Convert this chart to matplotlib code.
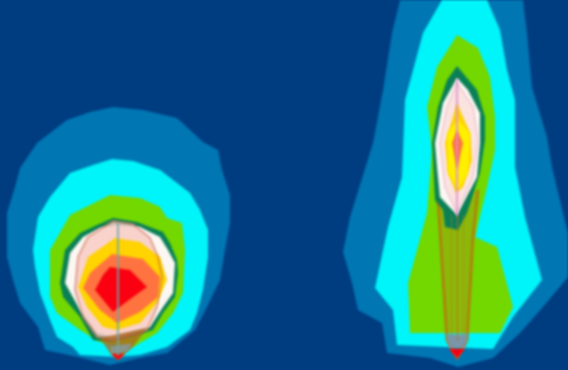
import numpy as np
import matplotlib
matplotlib.use('Agg')
import matplotlib.pyplot as plt
from matplotlib.patches import Polygon

# contour outlines, image pixels (x, y)
left_blue = [(113,107),(143,110),(177,118),(203,142),(218,150),(222,170),(230,195),(230,223),(225,250),(220,280),(207,307),(195,330),(167,353),(140,358),(110,365),(78,357),(45,350),(38,327),(20,303),(13,280),(7,257),(7,213),(15,187),(20,168),(37,143),(67,120),(90,112)]
left_cyan = [(112,159),(133,161),(160,170),(177,183),(190,193),(200,210),(208,230),(208,257),(203,290),(197,313),(190,330),(167,347),(140,355),(117,357),(80,355),(73,347),(57,337),(50,320),(40,293),(35,267),(33,250),(38,217),(50,197),(70,173),(93,165)]
left_green = [(110,195),(140,198),(160,207),(167,218),(182,223),(185,250),(183,293),(173,313),(157,333),(133,347),(100,342),(80,330),(57,313),(50,297),(50,250),(70,215),(90,205)]
left_dark = [(113,218),(137,222),(163,232),(170,243),(177,260),(178,273),(175,297),(163,313),(153,330),(127,338),(110,342),(93,340),(80,317),(63,297),(60,283),(65,250),(80,233),(97,225)]
left_white = [(115,225),(140,227),(160,237),(168,250),(175,263),(173,293),(163,307),(150,327),(113,337),(97,333),(80,310),(65,283),(70,253),(83,237),(100,228)]
left_pink = [(113,221),(133,224),(150,238),(158,257),(162,277),(157,307),(147,330),(113,340),(97,337),(83,317),(75,290),(78,257),(88,237)]
left_gold = [(115,238),(140,242),(160,257),(167,280),(157,303),(140,323),(117,330),(103,327),(87,307),(78,287),(88,257)]
left_orange = [(112,254),(143,259),(160,277),(158,297),(140,312),(117,323),(100,310),(83,288),(90,273)]
left_red = [(110,267),(130,270),(147,287),(133,297),(113,312),(95,290),(103,275)]
left_beam = [(100,338),(147,328),(133,347),(118,360),(110,353)]
left_gray = [(110,347),(132,343),(127,351),(112,354)]
left_tip = [(111,354),(125,354),(118,360)]

right_blue = [(400,0),(523,0),(527,33),(532,87),(547,137),(552,167),(563,213),(568,233),(568,277),(543,307),(520,333),(493,358),(458,367),(430,358),(387,353),(382,323),(358,310),(352,283),(343,252),(350,217),(373,143),(383,90),(392,33)]
right_cyan = [(442,0),(487,0),(500,30),(507,70),(515,100),(515,167),(525,217),(542,280),(513,317),(493,349),(397,345),(393,310),(375,288),(388,227),(402,177),(405,100),(423,33)]
right_green = [(457,35),(478,48),(490,77),(495,117),(495,150),(487,187),(475,237),(497,247),(513,307),(500,333),(410,333),(408,283),(427,213),(432,150),(427,107),(437,67)]
right_dark = [(457,66),(477,90),(485,117),(485,140),(480,173),(467,213),(458,230),(445,227),(443,210),(435,200),(432,143),(438,107),(447,80)]
right_white = [(457,78),(468,90),(480,113),(480,143),(477,177),(457,215),(440,197),(437,167),(435,143),(443,103)]
right_pink = [(457,83),(473,107),(478,140),(473,177),(457,213),(445,187),(440,143),(447,107)]
right_gold = [(457,103),(470,133),(472,160),(463,187),(456,193),(448,173),(445,143),(452,120)]
right_yellow = [(458,120),(470,133),(468,173),(458,190),(448,173),(447,133)]
right_orange = [(457,130),(463,143),(457,170),(452,143)]
right_beam = [(438,200),(447,340),(457,358),(467,340),(473,237),(478,190)]
right_gray = [(447,335),(467,335),(465,348),(449,348)]
right_tip = [(449,349),(465,349),(457,358)]

BG = '#003c80'
BLUE = '#0077b4'
CYAN = '#00f6fa'
GREEN = '#74d800'
DARK = '#0b8056'
WHITE = '#fdf8f4'
PINK = '#f9c9c4'
GOLD = '#ffd400'
YELLOW = '#fff000'
ORANGE = '#ff7440'
RED = '#fa0010'


def soften(img, dpi):
    # small box blur, the reference is a soft scaled-up picture
    pad = 3
    img = np.pad(img, ((pad, pad), (pad, pad), (0, 0)))
    a = img[..., 3:]
    out = np.dstack([img[..., :3] * a, a])
    kern = np.array([1, 2, 3, 2, 1]) / 9
    for axis in (0, 1):
        out = np.apply_along_axis(lambda v: np.convolve(v, kern, mode='same'), axis, out)
    a = out[..., 3:]
    rgb = np.divide(out[..., :3], a, out=np.zeros_like(out[..., :3]), where=a > 1e-4)
    return np.dstack([rgb, a]), -pad, -pad


fig = plt.figure(figsize=(5.68, 3.70), dpi=100, facecolor=BG)
ax = fig.add_axes([0, 0, 1, 1])
ax.set_xlim(0, 568)
ax.set_ylim(370, 0)
ax.axis('off')


def fill(pts, color, **kw):
    p = Polygon(pts, closed=True, facecolor=color, edgecolor='none', **kw)
    p.set_agg_filter(soften)
    ax.add_patch(p)


def outline(pts, color, lw, alpha, closed=True):
    p = Polygon(pts, closed=closed, fill=False, edgecolor=color, lw=lw, alpha=alpha)
    p.set_agg_filter(soften)
    ax.add_patch(p)


def vline(x, y0, y1, color, lw, alpha):
    ln, = ax.plot([x, x], [y0, y1], color=color, lw=lw, alpha=alpha)
    ln.set_agg_filter(soften)


for pts, col in [(left_blue, BLUE), (left_cyan, CYAN), (left_green, GREEN),
                 (left_dark, DARK), (left_white, WHITE)]:
    fill(pts, col)
fill(left_pink, PINK, alpha=0.8)
for pts, col in [(left_gold, GOLD), (left_orange, ORANGE), (left_red, RED),
                 (right_blue, BLUE), (right_cyan, CYAN), (right_green, GREEN)]:
    fill(pts, col)

# right beam goes under the dark ring and the core
fill(right_beam, '#c87020', alpha=0.3)
outline(right_beam, '#c06a10', 2.0, 0.75, closed=False)
vline(457, 215, 340, '#c07020', 1.0, 0.7)
vline(451, 215, 335, '#c07020', 0.8, 0.5)
vline(463, 215, 335, '#c07020', 0.8, 0.5)
for pts, col in [(right_dark, DARK), (right_white, WHITE)]:
    fill(pts, col)

# pale pink in the right core, then the warm centre
fill(right_pink, PINK, alpha=0.4)
for pts, col in [(right_gold, GOLD), (right_yellow, YELLOW), (right_orange, ORANGE)]:
    fill(pts, col)

# left beam and the red tips
fill(left_beam, '#b06a20', alpha=0.8)
fill(left_gray, '#8a9aa0', alpha=0.8)
fill(left_tip, RED)
fill(right_gray, '#8a8aa8', alpha=0.8)
fill(right_tip, RED)

# thin mesh lines
outline(left_pink, '#c8603c', 1.2, 0.6)
outline(right_pink, '#e090b0', 0.9, 0.5)
vline(118, 224, 355, '#70a8a8', 1.2, 1.0)
vline(457, 80, 215, '#e090d0', 1.6, 0.8)

fig.savefig('out.png', dpi=100, facecolor=BG)
